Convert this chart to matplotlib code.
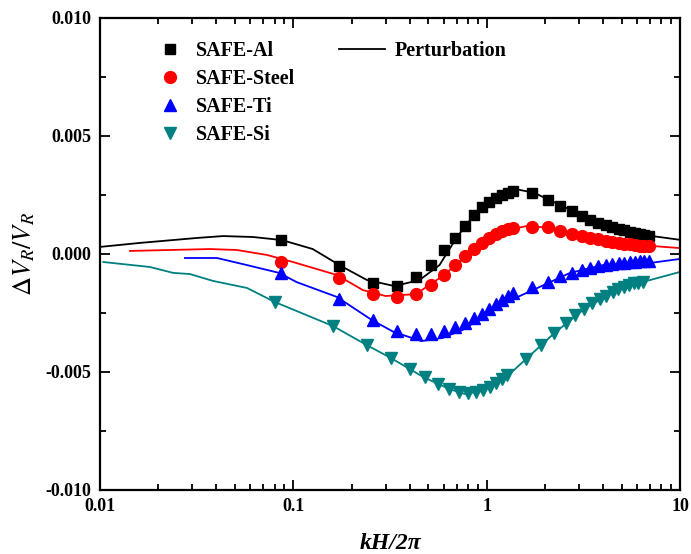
import matplotlib
matplotlib.use("Agg")
import matplotlib.pyplot as plt
from matplotlib.ticker import MultipleLocator, FuncFormatter

plt.rcParams['font.family'] = ['Liberation Serif', 'DejaVu Serif']
plt.rcParams['mathtext.fontset'] = 'stix'
plt.rcParams['axes.unicode_minus'] = False

# kH/2pi of the SAFE points (Al, Steel, Ti share one grid, Si has its own)
x_safe = [0.086, 0.172, 0.258, 0.344, 0.43, 0.516, 0.602, 0.688, 0.774, 0.86,
          0.946, 1.032, 1.118, 1.204, 1.29, 1.376, 1.72, 2.064, 2.408, 2.752,
          3.096, 3.44, 3.784, 4.128, 4.472, 4.816, 5.16, 5.504, 5.848, 6.192,
          6.536, 6.88]
x_si = [0.08, 0.16, 0.24, 0.32, 0.40, 0.48, 0.56, 0.64, 0.72, 0.80,
        0.88, 0.96, 1.04, 1.12, 1.20, 1.28, 1.60, 1.92, 2.24, 2.56,
        2.88, 3.20, 3.52, 3.84, 4.16, 4.48, 4.80, 5.12, 5.44, 5.76,
        6.08, 6.40]

al = [0.00059, -0.00051, -0.00123, -0.00136, -0.00097, -0.00047, 0.00017, 0.00068,
      0.00119, 0.00165, 0.00199, 0.0022, 0.00237, 0.0025, 0.0026, 0.00265,
      0.0026, 0.00229, 0.00203, 0.00182, 0.00161, 0.00144, 0.00131, 0.00123,
      0.00114, 0.00106, 0.00102, 0.00093, 0.00089, 0.00085, 0.00081, 0.00076]
steel = [-0.00034, -0.00102, -0.00169, -0.00182, -0.00169, -0.00131, -0.00089, -0.00047,
         -0.00008, 0.00021, 0.00047, 0.00068, 0.00085, 0.00097, 0.00106, 0.0011,
         0.00114, 0.00114, 0.00097, 0.00085, 0.00076, 0.00068, 0.00064, 0.00055,
         0.00051, 0.00047, 0.00044, 0.00042, 0.00038, 0.00036, 0.00034, 0.00034]
ti = [-0.0008, -0.00191, -0.0028, -0.00326, -0.00339, -0.00339, -0.00326, -0.00309,
      -0.00292, -0.00271, -0.00254, -0.00233, -0.00212, -0.00195, -0.00178, -0.00165,
      -0.0014, -0.00119, -0.00093, -0.0008, -0.00068, -0.00059, -0.00051, -0.00047,
      -0.00042, -0.00038, -0.00038, -0.00034, -0.00034, -0.0003, -0.0003, -0.0003]
si = [-0.00203, -0.00305, -0.00386, -0.00441, -0.00487, -0.00521, -0.00551, -0.00572,
      -0.00585, -0.00589, -0.00585, -0.00576, -0.00564, -0.00547, -0.0053, -0.00513,
      -0.00445, -0.00386, -0.00335, -0.00292, -0.00258, -0.00233, -0.00208, -0.00191,
      -0.00178, -0.00161, -0.00148, -0.0014, -0.00131, -0.00123, -0.00121, -0.00119]

# perturbation curves
pl_al_x = [0.01, 0.0161, 0.0318, 0.0433, 0.0619, 0.0874, 0.126, 0.1765, 0.24, 0.334,
           0.45, 0.57, 0.7, 0.86, 1.03, 1.2, 1.45, 1.75, 2.1, 2.75, 3.44, 4.5, 5.5, 6.9, 10]
pl_al_y = [0.0003, 0.00047, 0.00068, 0.00076, 0.00072, 0.00059, 0.00021, -0.00051, -0.0011, -0.00136,
           -0.0011, -0.00047, 0.0007, 0.00165, 0.0022, 0.0026, 0.00273, 0.0026, 0.0023, 0.00185,
           0.00145, 0.00115, 0.00095, 0.00078, 0.0006]
pl_st_x = [0.0143, 0.037, 0.051, 0.073, 0.0996, 0.168, 0.229, 0.30, 0.43, 0.6,
           0.86, 1.2, 1.6, 2.1, 3.0, 4.5, 6.9, 10]
pl_st_y = [0.00013, 0.00021, 0.00017, -0.00004, -0.00034, -0.00089, -0.00153, -0.00178, -0.0017, -0.0009,
           0.0002, 0.00097, 0.00118, 0.00112, 0.0008, 0.00053, 0.00035, 0.00025]
pl_ti_x = [0.0275, 0.0403, 0.0576, 0.0844, 0.104, 0.168, 0.255, 0.33, 0.46, 0.59,
           0.75, 0.96, 1.27, 1.83, 2.7, 4.0, 7.0, 10]
pl_ti_y = [-0.00017, -0.00017, -0.00047, -0.0008, -0.00119, -0.00182, -0.0028, -0.0033, -0.00369, -0.00356,
           -0.00322, -0.00267, -0.00203, -0.00144, -0.0008, -0.00047, -0.00038, -0.00021]
pl_si_x = [0.0104, 0.0181, 0.0239, 0.0292, 0.0384, 0.0576, 0.08, 0.16, 0.24, 0.32,
           0.47, 0.64, 0.77, 0.96, 1.28, 1.6, 2.24, 3.2, 4.8, 6.4, 10]
pl_si_y = [-0.00034, -0.00055, -0.0008, -0.00085, -0.00114, -0.00144, -0.00203, -0.00305, -0.00386, -0.00441,
           -0.00521, -0.00572, -0.00593, -0.0058, -0.00517, -0.00445, -0.00335, -0.00233, -0.00148, -0.00119, -0.00076]

teal = "#008080"

fig = plt.figure(figsize=(6.91, 5.54), dpi=100)
ax = fig.add_axes([100 / 691, 1 - 490 / 554, 580 / 691, 472 / 554])

lw = 1.3
perturb, = ax.plot(pl_al_x, pl_al_y, color="black", lw=lw, label="Perturbation")
ax.plot(pl_st_x, pl_st_y, color="red", lw=lw)
ax.plot(pl_ti_x, pl_ti_y, color="blue", lw=lw)
ax.plot(pl_si_x, pl_si_y, color=teal, lw=lw)

h_al, = ax.plot(x_safe, al, ls="none", marker="s", ms=7.5, color="black", label="SAFE-Al")
h_st, = ax.plot(x_safe, steel, ls="none", marker="o", ms=8.5, color="red", label="SAFE-Steel")
h_ti, = ax.plot(x_safe, ti, ls="none", marker="^", ms=8.5, color="blue", label="SAFE-Ti")
h_si, = ax.plot(x_si, si, ls="none", marker="v", ms=8.5, color=teal, label="SAFE-Si")

ax.set_xscale("log")
ax.set_xlim(0.01, 10)
ax.set_ylim(-0.010, 0.010)
ax.set_xticks([0.01, 0.1, 1, 10])
ax.xaxis.set_major_formatter(FuncFormatter(lambda v, p: "%g" % v))
ax.yaxis.set_major_locator(MultipleLocator(0.005))
ax.yaxis.set_minor_locator(MultipleLocator(0.0025))
ax.yaxis.set_major_formatter(FuncFormatter(lambda v, p: "%.3f" % v))

ax.tick_params(which="both", direction="in", top=True, right=True, width=1.3)
ax.tick_params(which="major", length=7, labelsize=13, pad=6)
ax.tick_params(which="minor", length=4)
for lab in ax.get_xticklabels() + ax.get_yticklabels():
    lab.set_fontweight("bold")
for sp in ax.spines.values():
    sp.set_linewidth(1.6)

ax.set_xlabel("kH/2π", fontsize=17, fontweight="bold", fontstyle="italic")
ax.xaxis.set_label_coords(0.5, -43 / 472)
ax.set_ylabel(r"$\Delta V_R/V_R$", fontsize=19)
ax.yaxis.set_label_coords(-63 / 580, 0.5)

leg_font = {"size": 14.5, "weight": "bold"}
leg1 = ax.legend(handles=[h_al, h_st, h_ti, h_si], loc="upper left",
                 bbox_to_anchor=(0.1034, 0.952), frameon=False, borderpad=0,
                 borderaxespad=0, handlelength=1.0, handletextpad=0.8,
                 labelspacing=0.4, prop=leg_font)
ax.add_artist(leg1)
ax.legend(handles=[perturb], loc="upper left", bbox_to_anchor=(0.412, 0.952),
          frameon=False, borderpad=0, borderaxespad=0, handlelength=2.3,
          handletextpad=0.45, prop=leg_font)

fig.savefig("out.png", dpi=100)
